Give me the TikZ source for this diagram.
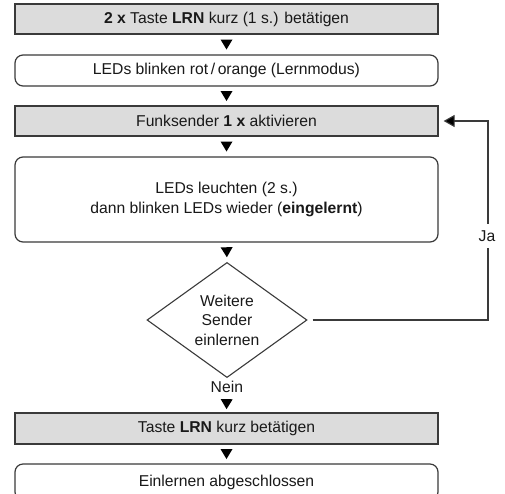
\documentclass[tikz,border=0pt]{standalone}
\usepackage{fontspec}
\setmainfont{Liberation Sans}
\usetikzlibrary{shapes.geometric,arrows.meta,decorations.markings}
\definecolor{boxgray}{HTML}{DCDCDC}
\definecolor{linecol}{HTML}{3A3A3A}
\tikzset{
  every node/.style={font=\fontsize{15.7}{19.5}\selectfont, text=black!90},
  actbox/.style={draw=linecol, line width=1.2pt, fill=boxgray, minimum width=423pt, inner sep=0pt},
  infobox/.style={draw=linecol, line width=1.2pt, fill=white, rounded corners=8pt, minimum width=423pt, inner sep=0pt, align=center},
  decbox/.style={draw=linecol, line width=1.1pt, diamond, minimum width=160pt, minimum height=114pt, inner sep=0pt, align=center},
  tri/.style={decoration={markings, mark=at position #1 with {\fill[black] (-5pt,-6pt) -- (5pt,0pt) -- (-5pt,6pt) -- cycle;}}, postaction={decorate}},
  tri/.default=0.5,
  fb/.style={draw=linecol, line width=1.1pt, -{Triangle[length=11pt,width=12pt,fill=black]}}
}
\begin{document}
\begin{tikzpicture}[x=1pt,y=-1pt]
\useasboundingbox (0,0) rectangle (505,493);
\clip (0,0) rectangle (505,493);
\node[actbox, minimum height=30pt] (b1) at (226.5,19) {\textbf{2 x} Taste \textbf{LRN} kurz (1 s.) betätigen};
\node[infobox, minimum height=31pt] (b2) at (226.5,70.5) {LEDs blinken rot\,/\,orange (Lernmodus)};
\node[actbox, minimum height=30pt] (b3) at (226.5,121) {Funksender \textbf{1 x} aktivieren};
\node[infobox, minimum height=85pt] (b4) at (226.5,199.5) {LEDs leuchten (2 s.)\\dann blinken LEDs wieder (\textbf{eingelernt})};
\node[decbox] (d) at (227,320) {Weitere\\Sender\\einlernen};
\node[actbox, minimum height=31pt] (b5) at (226.5,428.5) {Taste \textbf{LRN} kurz betätigen};
\node[infobox, minimum height=36pt] (b6) at (226.5,482) {Einlernen abgeschlossen};
\path[tri] (b1.south) -- (b2.north);
\path[tri] (b2.south) -- (b3.north);
\path[tri] (b3.south) -- (b4.north);
\path[tri] (b4.south) -- (d.north);
\path[tri=0.76] (d.south) -- node[pos=0.27] (nein) {Nein} (b5.north);
\path[tri] (b5.south) -- (b6.north);
\coordinate (c1) at (488,320);
\draw[fb, shorten <=5pt, shorten >=5pt] (d.east) -- (c1) |- (b3.east);
\node[fill=white, inner xsep=2pt, inner ysep=7pt] (ja) at (487,236) {Ja};
\end{tikzpicture}
\end{document}
